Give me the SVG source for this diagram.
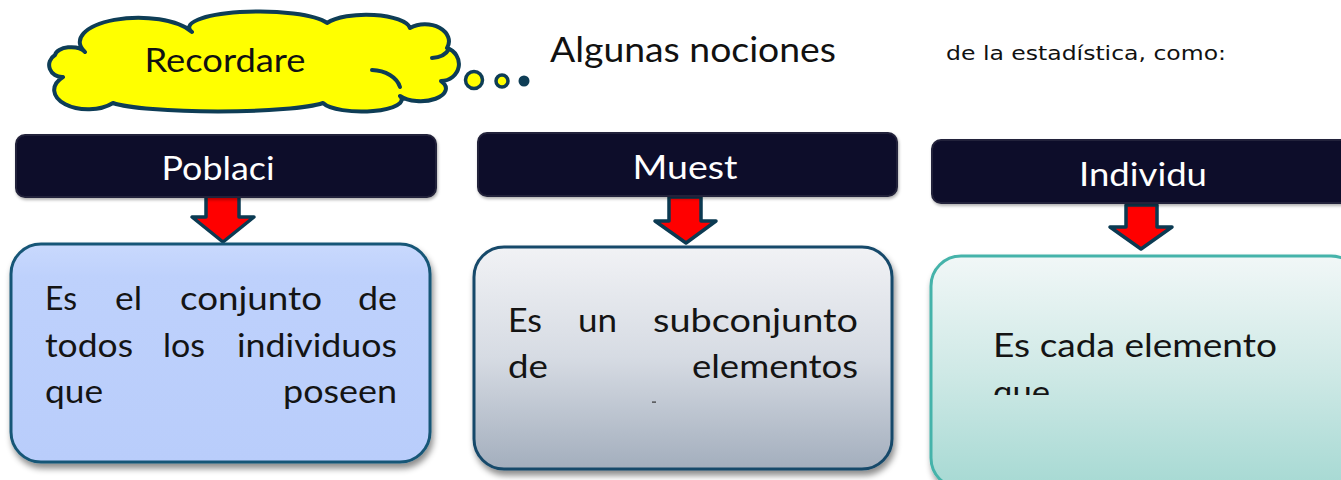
<svg xmlns="http://www.w3.org/2000/svg" width="1341" height="480" viewBox="0 0 1341 480">
<style>
.hdr{fill:#0e0d2b;stroke:#24243a;stroke-width:2}
.hdrtxt{font-family:Lato,"Noto Sans",sans-serif;font-size:32px;fill:#ffffff;text-anchor:middle}
.arrow{fill:#ff0000;stroke:#0b3a52;stroke-width:3.5;stroke-linejoin:round}
.body{font-family:Lato,"Noto Sans",sans-serif;font-size:32px;fill:#141414}
.cl{fill:none;stroke:#0e3d56;stroke-width:4;stroke-linecap:round}
</style>
<defs>
<linearGradient id="g1" x1="0" y1="0" x2="0" y2="1"><stop offset="0" stop-color="#c9d9fd"/><stop offset="0.15" stop-color="#bed1fc"/><stop offset="1" stop-color="#b9cdfb"/></linearGradient>
<linearGradient id="g2" x1="0" y1="0" x2="0" y2="1"><stop offset="0" stop-color="#f1f2f5"/><stop offset="0.5" stop-color="#d6dbe3"/><stop offset="1" stop-color="#a3aebd"/></linearGradient>
<linearGradient id="g3" x1="0" y1="0" x2="0" y2="1"><stop offset="0" stop-color="#f1f7f7"/><stop offset="0.5" stop-color="#cfe9e6"/><stop offset="1" stop-color="#a6d9d3"/></linearGradient>
<filter id="sh" x="-10%" y="-10%" width="125%" height="130%"><feDropShadow dx="2" dy="5" stdDeviation="3" flood-color="#000" flood-opacity="0.45"/></filter>
<filter id="sh2" x="-5%" y="-10%" width="110%" height="130%"><feDropShadow dx="1" dy="2" stdDeviation="1.5" flood-color="#000" flood-opacity="0.3"/></filter>
<clipPath id="c3"><rect x="930" y="255" width="420" height="140"/></clipPath>
</defs>

<g id="cloud">
<path d="M 63,77 A 13,12 0 0 1 55,55 A 16,9 0 0 1 85,52 A 58,24 0 0 1 192,32 A 70,16 0 0 1 327,23 A 44,15 0 0 1 410,28 A 24,17 0 0 1 447,48 A 18,17 0 0 1 441,81 A 24,12 0 0 1 400,96 A 40,12 0 0 1 323,103 A 110,12 0 0 1 113,103 A 28,16 0 0 1 63,77 Z" fill="#ffff00" stroke="#0e3d56" stroke-width="4" stroke-linejoin="round"/>
<path class="cl" d="M 372,70 A 30,22 0 0 1 400,87"/>
<path class="cl" d="M 432,58 A 20,14 0 0 0 449,49"/>
<text x="225" y="72" font-family="Lato,'Noto Sans',sans-serif" font-size="32" fill="#111111" text-anchor="middle" textLength="161" lengthAdjust="spacingAndGlyphs">Recordare</text>
<circle cx="474" cy="80" r="8.5" fill="#ffff00" stroke="#0e3d56" stroke-width="3.5"/>
<circle cx="502" cy="81" r="6" fill="#ffff00" stroke="#0e3d56" stroke-width="3.5"/>
<circle cx="524" cy="81" r="5.5" fill="#0e3d56"/>
</g>

<g id="title">
<text x="550" y="62" font-family="Lato,'Noto Sans',sans-serif" font-size="34" fill="#111111" textLength="286" lengthAdjust="spacingAndGlyphs">Algunas nociones</text>
<text x="946" y="60" font-family="'DejaVu Sans',sans-serif" font-size="19" fill="#111111" textLength="280" lengthAdjust="spacingAndGlyphs">de la estadística, como:</text>
</g>

<g id="connectors">
<path class="arrow" d="M 206,196 L 239,196 L 239,217 L 254,217 L 223,242 L 192,217 L 206,217 Z"/>
<path class="arrow" d="M 669,197 L 701,197 L 701,221 L 716,221 L 686,243 L 655,221 L 669,221 Z"/>
<path class="arrow" d="M 1126,205 L 1157,205 L 1157,227 L 1172,227 L 1141,249 L 1110,227 L 1126,227 Z"/>
</g>

<g id="poblacion">
<rect class="hdr" x="16" y="135" width="420" height="62" rx="9" filter="url(#sh2)"/>
<text class="hdrtxt" x="218" y="180" textLength="113" lengthAdjust="spacingAndGlyphs">Poblaci</text>
</g>
<g id="muestra">
<rect class="hdr" x="478" y="133" width="419" height="63" rx="9" filter="url(#sh2)"/>
<text class="hdrtxt" x="685" y="179" textLength="105" lengthAdjust="spacingAndGlyphs">Muest</text>
</g>
<g id="individuo">
<rect class="hdr" x="932" y="140" width="430" height="63" rx="9" filter="url(#sh2)"/>
<text class="hdrtxt" x="1143" y="186" textLength="128" lengthAdjust="spacingAndGlyphs">Individu</text>
</g>

<g id="def-poblacion">
<rect x="11" y="244" width="419" height="218" rx="30" fill="url(#g1)" stroke="#195777" stroke-width="3" filter="url(#sh)"/>
<g class="body">
<text x="45" y="310" textLength="32" lengthAdjust="spacingAndGlyphs">Es</text>
<text x="115" y="310" textLength="27" lengthAdjust="spacingAndGlyphs">el</text>
<text x="180" y="310" textLength="142" lengthAdjust="spacingAndGlyphs">conjunto</text>
<text x="358" y="310" textLength="39" lengthAdjust="spacingAndGlyphs">de</text>
<text x="45" y="357" textLength="88" lengthAdjust="spacingAndGlyphs">todos</text>
<text x="163" y="357" textLength="42" lengthAdjust="spacingAndGlyphs">los</text>
<text x="237" y="357" textLength="160" lengthAdjust="spacingAndGlyphs">individuos</text>
<text x="45" y="403" textLength="58" lengthAdjust="spacingAndGlyphs">que</text>
<text x="283" y="403" textLength="114" lengthAdjust="spacingAndGlyphs">poseen</text>
</g>
</g>

<g id="def-muestra">
<rect x="474" y="247" width="418" height="222" rx="30" fill="url(#g2)" stroke="#17496a" stroke-width="3" filter="url(#sh)"/>
<g class="body">
<text x="508" y="332" textLength="34" lengthAdjust="spacingAndGlyphs">Es</text>
<text x="578" y="332" textLength="39" lengthAdjust="spacingAndGlyphs">un</text>
<text x="653" y="332" textLength="205" lengthAdjust="spacingAndGlyphs">subconjunto</text>
<text x="508" y="378" textLength="40" lengthAdjust="spacingAndGlyphs">de</text>
<text x="692" y="378" textLength="166" lengthAdjust="spacingAndGlyphs">elementos</text>
</g>
<rect x="652" y="401.5" width="4" height="1.2" fill="#333"/>
</g>

<g id="def-individuo">
<rect x="931" y="256" width="430" height="232" rx="30" fill="url(#g3)" stroke="#45b3aa" stroke-width="3" filter="url(#sh)"/>
<g class="body" clip-path="url(#c3)">
<text x="993" y="357" textLength="284" lengthAdjust="spacingAndGlyphs">Es cada elemento</text>
<text x="993" y="404" textLength="57" lengthAdjust="spacingAndGlyphs">que</text>
</g>
</g>
</svg>
